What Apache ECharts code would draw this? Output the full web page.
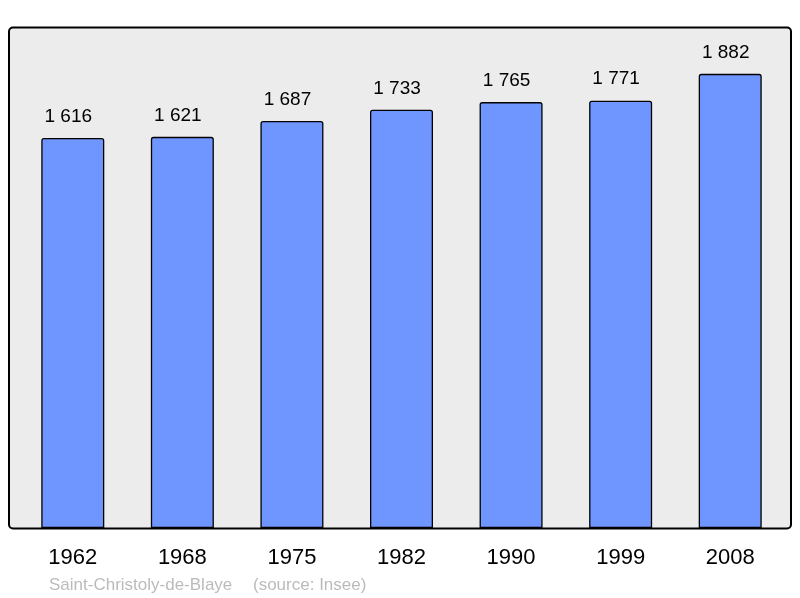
<!DOCTYPE html>
<html>
<head>
<meta charset="utf-8">
<script src="https://cdn.jsdelivr.net/npm/echarts@6/dist/echarts.min.js"></script>
<style>html,body{margin:0;padding:0;background:#fff;}#c{width:800px;height:598px;}</style>
</head>
<body>
<div id="c"></div>
<script>
const years = ['1962', '1968', '1975', '1982', '1990', '1999', '2008'];
const population = [1616, 1621, 1687, 1733, 1765, 1771, 1882];
const place = 'Saint-Christoly-de-Blaye';
const source = '(source: Insee)';

function fmt(v) { return String(v).replace(/\B(?=(\d{3})+(?!\d))/g, ' '); }

const chart = echarts.init(document.getElementById('c'), null, { renderer: 'canvas' });
chart.setOption({
  animation: false,
  textStyle: { fontFamily: 'Liberation Sans, Arial, sans-serif' },
  graphic: [
    { type: 'rect', z: -10, shape: { x: 9, y: 27.5, width: 782, height: 501, r: 4 },
      style: { fill: '#ececec', stroke: '#000', lineWidth: 2 } },
    { type: 'text', left: 49, top: 577, style: { text: place, fill: '#bbbbbb', font: '17px Liberation Sans, Arial, sans-serif' } },
    { type: 'text', left: 253, top: 577, style: { text: source, fill: '#bbbbbb', font: '17px Liberation Sans, Arial, sans-serif' } }
  ],
  grid: { left: 18, right: 15, top: 28.5, bottom: 70, containLabel: false },
  xAxis: {
    type: 'category', data: years,
    axisLine: { show: false }, axisTick: { show: false },
    axisLabel: { color: '#000', fontSize: 22, margin: 19, fontFamily: 'Liberation Sans, Arial, sans-serif' }
  },
  yAxis: {
    type: 'value', min: 0, max: 2070,
    show: false, splitLine: { show: false }
  },
  series: [{
    type: 'bar', data: population, barWidth: 63,
    itemStyle: { color: '#6f96ff', borderColor: '#000', borderWidth: 1.3, borderRadius: [2, 2, 0, 0] },
    label: { show: true, position: 'top', distance: 12, offset: [-4.5, 0], color: '#000', fontSize: 19,
      fontFamily: 'Liberation Sans, Arial, sans-serif', formatter: p => fmt(p.value) }
  }]
});
</script>
</body>
</html>
